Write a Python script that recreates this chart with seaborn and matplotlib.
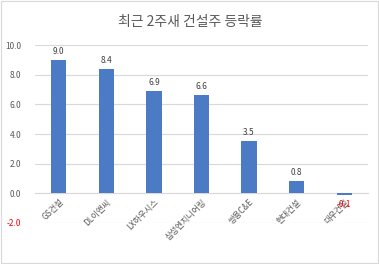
import matplotlib
matplotlib.use("Agg")
import matplotlib.pyplot as plt
import seaborn as sns
import pandas as pd
from matplotlib.patches import Rectangle

categories = ["GS건설", "DL이앤씨", "LX하우시스", "삼성엔지니어링", "쌍용C&E", "현대건설", "대우건설"]
values = [9.0, 8.4, 6.9, 6.6, 3.5, 0.8, -0.1]
yticks = [-2.0, 0.0, 2.0, 4.0, 6.0, 8.0, 10.0]
title = "최근 2주새 건설주 등락률"

sns.set_theme(style="white")
plt.rcParams['font.family'] = ['Noto Sans CJK KR', 'DejaVu Sans']

df = pd.DataFrame({"cat": categories, "val": values})

fig = plt.figure(figsize=(3.79, 2.64), dpi=100)
fig.patch.set_facecolor("white")
fig.patches.append(Rectangle((0.003, 0.004), 0.994, 0.992, transform=fig.transFigure,
                             fill=False, edgecolor="#d9d9d9", linewidth=0.8))
ax = fig.add_axes([35/379, 1-223/264, 333/379, (223-45)/264])

sns.barplot(data=df, x="cat", y="val", color="#4A7BC4", width=0.32, ax=ax,
            saturation=1, zorder=5, linewidth=0)

ax.set_ylim(-2, 10)
ax.set_xlim(-0.5, len(categories) - 0.5)
ax.set_yticks(yticks)
ax.set_yticklabels([f"{t:.1f}" for t in yticks], fontsize=6, color="#595959")
for lab, t in zip(ax.get_yticklabels(), yticks):
    if t < 0:
        lab.set_color("#ff0000")
ax.yaxis.grid(True, color="#d9d9d9", linewidth=0.8, zorder=0)
ax.tick_params(axis="y", length=0, pad=10)
ax.tick_params(axis="x", length=0, pad=3)

for s in ["top", "right", "left"]:
    ax.spines[s].set_visible(False)
ax.spines["bottom"].set_position(("data", 0))
ax.spines["bottom"].set_color("#d9d9d9")
ax.spines["bottom"].set_linewidth(0.8)
ax.spines["bottom"].set_zorder(1)

ax.set_xticks(range(len(categories)))
ax.set_xticklabels(categories, rotation=45, ha="right", rotation_mode="anchor",
                   fontsize=6, color="#595959")
ax.set_xlabel("")
ax.set_ylabel("")

for i, v in enumerate(values):
    if v >= 0:
        ax.annotate(f"{v:.1f}", (i, v), xytext=(0, 3), textcoords="offset points",
                    ha="center", va="bottom", fontsize=6, color="#404040", zorder=6)
    else:
        ax.annotate(f"{v:.1f}", (i, v), xytext=(0, -4), textcoords="offset points",
                    ha="center", va="top", fontsize=6, color="#ff0000", zorder=6)

fig.text(190/379, 1-22/264, title, ha="center", va="center", fontsize=10, color="#595959")

fig.savefig("out.png", dpi=100)
